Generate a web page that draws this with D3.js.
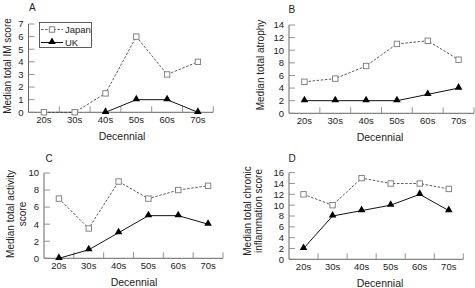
<!DOCTYPE html>
<html>
<head>
<meta charset="utf-8">
<script src="https://cdn.jsdelivr.net/npm/d3@7"></script>
<style>
  body { margin: 0; background: #fff; }
  svg { display: block; font-family: "Liberation Sans", Arial, sans-serif; }
</style>
</head>
<body>
<div id="chart"></div>
<script>
const decades = ["20s", "30s", "40s", "50s", "60s", "70s"];

const japanIM = [0, 0, 1.5, 6, 3, 4];
const ukIM = [null, null, 0, 1, 1, 0];
const japanAtrophy = [5, 5.5, 7.5, 11, 11.5, 8.5];
const ukAtrophy = [2, 2, 2, 2, 3, 4];
const japanActivity = [7, 3.5, 9, 7, 8, 8.5];
const ukActivity = [0, 1, 3, 5, 5, 4];
const japanChronic = [12, 10, 15, 14, 14, 13];
const ukChronic = [2, 8, 9, 10, 12, 9];

const seriesNames = ["Japan", "UK"];

const svg = d3.select("#chart")
  .append("svg")
  .attr("width", 475)
  .attr("height", 288);

// panel geometry
const panels = [
  { letter: "A", jp: japanIM, uk: ukIM, max: 7, step: 1,
    x: [28.5, 213.3], y: [112.3, 24], letterAt: [29, 10.5],
    ylabel: ["Median total IM score"], ylx: [7.5], yly: 66, xlx: 122, legend: true },
  { letter: "B", jp: japanAtrophy, uk: ukAtrophy, max: 14, step: 2,
    x: [289, 474], y: [113.3, 25], letterAt: [288.5, 12.5],
    ylabel: ["Median total atrophy"], ylx: [260], yly: 65, xlx: 380 },
  { letter: "C", jp: japanActivity, uk: ukActivity, max: 10, step: 2,
    x: [44, 223], y: [258.3, 173], letterAt: [45.5, 162],
    ylabel: ["Median total activity", "score"], ylx: [10, 22], yly: 214, xlx: 134 },
  { letter: "D", jp: japanChronic, uk: ukChronic, max: 16, step: 2,
    x: [289, 463.3], y: [259.3, 172.7], letterAt: [288.5, 162],
    ylabel: ["Median total chronic", "inflammation score"], ylx: [247, 258.5], yly: 211, xlx: 380 }
];

const axisColor = "#555";
const tri = d3.symbol().type(d3.symbolTriangle).size(25);

function drawSquare(g, cx, cy) {
  g.append("rect")
    .attr("x", cx - 2.7).attr("y", cy - 2.7)
    .attr("width", 5.4).attr("height", 5.4)
    .attr("fill", "#fff")
    .attr("stroke", "#777")
    .attr("stroke-width", 0.9);
}

panels.forEach(p => {
  const g = svg.append("g");

  const x = d3.scaleBand().domain(decades).range(p.x);
  const y = d3.scaleLinear().domain([0, p.max]).range(p.y);
  const cx = d => x(d) + x.bandwidth() / 2;

  // axes lines
  g.append("line")
    .attr("x1", p.x[0]).attr("x2", p.x[0])
    .attr("y1", p.y[0]).attr("y2", p.y[1])
    .attr("stroke", axisColor).attr("stroke-width", 0.9);
  g.append("line")
    .attr("x1", p.x[0]).attr("x2", p.x[1])
    .attr("y1", p.y[0]).attr("y2", p.y[0])
    .attr("stroke", axisColor).attr("stroke-width", 0.9);

  // y ticks (inside)
  const yTicks = d3.range(0, p.max + 0.001, p.step);
  g.selectAll(".yt").data(yTicks).enter().append("line")
    .attr("x1", p.x[0]).attr("x2", p.x[0] + 6)
    .attr("y1", d => y(d)).attr("y2", d => y(d))
    .attr("stroke", "#888").attr("stroke-width", 0.9);
  g.selectAll(".yl").data(yTicks).enter().append("text")
    .attr("x", p.x[0] - 5)
    .attr("y", d => y(d))
    .attr("dy", "0.35em")
    .attr("text-anchor", "end")
    .attr("font-size", 9.5)
    .attr("fill", "#222")
    .text(d => d);

  // x ticks between categories (inside)
  g.selectAll(".xt").data(decades).enter().append("line")
    .attr("x1", d => x(d) + x.bandwidth()).attr("x2", d => x(d) + x.bandwidth())
    .attr("y1", p.y[0]).attr("y2", p.y[0] - 6)
    .attr("stroke", "#888").attr("stroke-width", 0.9);
  g.selectAll(".xl").data(decades).enter().append("text")
    .attr("x", d => cx(d))
    .attr("y", p.y[0] + 11)
    .attr("text-anchor", "middle")
    .attr("font-size", 9.5)
    .attr("fill", "#222")
    .text(d => d);

  // axis titles
  g.append("text")
    .attr("x", p.xlx)
    .attr("y", p.y[0] + 27.5)
    .attr("text-anchor", "middle")
    .attr("font-size", 10.5)
    .attr("fill", "#222")
    .text("Decennial");

  p.ylabel.forEach((t, i) => {
    g.append("text")
      .attr("transform", `translate(${p.ylx[i]},${p.yly}) rotate(-90)`)
      .attr("text-anchor", "middle")
      .attr("dy", "0.35em")
      .attr("font-size", 10)
      .attr("fill", "#222")
      .text(t);
  });

  g.append("text")
    .attr("x", p.letterAt[0]).attr("y", p.letterAt[1])
    .attr("font-size", 10)
    .attr("fill", "#222")
    .text(p.letter);

  // lines
  const line = d3.line()
    .defined(d => d.v !== null)
    .x(d => cx(d.k))
    .y(d => y(d.v));

  const jpData = decades.map((k, i) => ({ k, v: p.jp[i] }));
  const ukData = decades.map((k, i) => ({ k, v: p.uk[i] }));

  g.append("path")
    .attr("d", line(jpData))
    .attr("fill", "none")
    .attr("stroke", "#333")
    .attr("stroke-width", 0.8)
    .attr("stroke-dasharray", "2.5,1.6");

  g.append("path")
    .attr("d", line(ukData))
    .attr("fill", "none")
    .attr("stroke", "#111")
    .attr("stroke-width", 1);

  jpData.forEach(d => drawSquare(g, cx(d.k), y(d.v)));

  g.selectAll(".tri").data(ukData.filter(d => d.v !== null)).enter().append("path")
    .attr("d", tri)
    .attr("transform", d => `translate(${cx(d.k)},${y(d.v) - 0.6})`)
    .attr("fill", "#000");

  if (p.legend) {
    const lg = g.append("g");
    lg.append("rect")
      .attr("x", 39.5).attr("y", 22.5)
      .attr("width", 52).attr("height", 25)
      .attr("fill", "#fff")
      .attr("stroke", "#333")
      .attr("stroke-width", 0.8);
    seriesNames.forEach((name, i) => {
      const ly = 29.5 + i * 13;
      lg.append("line")
        .attr("x1", 41).attr("x2", 63)
        .attr("y1", ly).attr("y2", ly)
        .attr("stroke", i === 0 ? "#333" : "#111")
        .attr("stroke-width", i === 0 ? 0.8 : 1)
        .attr("stroke-dasharray", i === 0 ? "2.5,1.6" : null);
      if (i === 0) drawSquare(lg, 52, ly);
      else lg.append("path").attr("d", tri).attr("transform", `translate(52,${ly - 0.6})`).attr("fill", "#000");
      lg.append("text")
        .attr("x", 65).attr("y", ly)
        .attr("dy", "0.35em")
        .attr("font-size", 9.5)
        .attr("fill", "#222")
        .text(name);
    });
  }
});
</script>
</body>
</html>
